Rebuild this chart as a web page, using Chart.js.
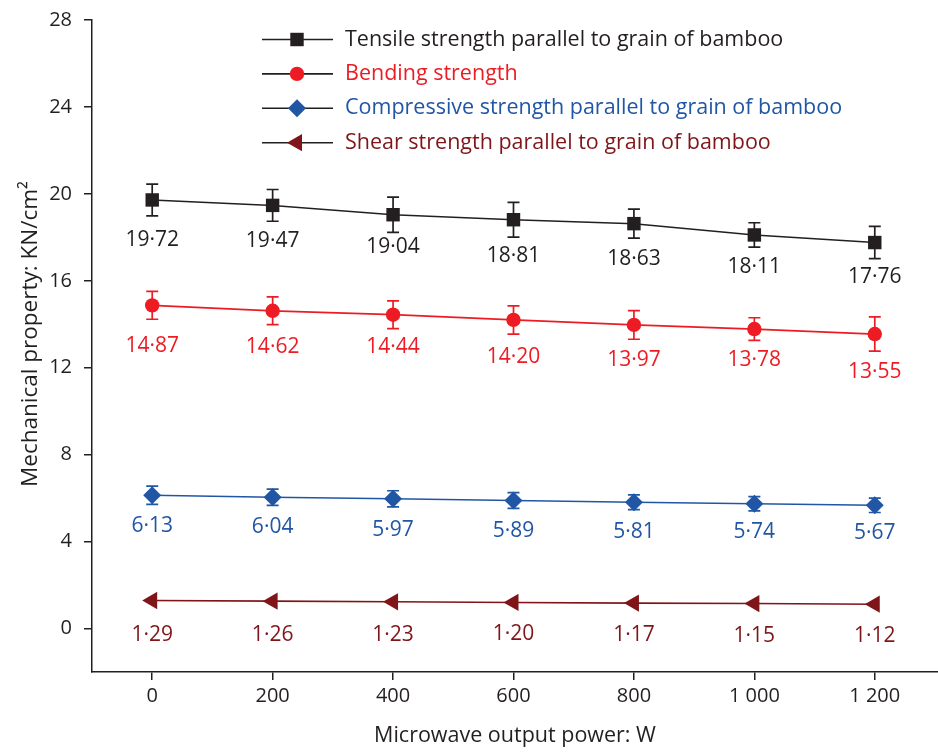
<!DOCTYPE html>
<html>
<head>
<meta charset="utf-8">
<script src="https://cdn.jsdelivr.net/npm/chart.js@4/dist/chart.umd.min.js"></script>
<style>
  html, body { margin: 0; padding: 0; background: #ffffff; }
  #wrap { width: 938px; height: 752px; }
</style>
</head>
<body>
<div id="wrap"><canvas id="chart" width="938" height="752"></canvas></div>
<script>
// Microwave output power (W)
const powerLevels = [0, 200, 400, 600, 800, 1000, 1200];

// Mean mechanical properties (KN/cm²) with their standard deviations
const tensileStrength = [19.72, 19.47, 19.04, 18.81, 18.63, 18.11, 17.76];
const tensileSD       = [0.73, 0.73, 0.81, 0.80, 0.67, 0.56, 0.74];

const bendingStrength = [14.87, 14.62, 14.44, 14.20, 13.97, 13.78, 13.55];
const bendingSD       = [0.64, 0.64, 0.64, 0.65, 0.66, 0.52, 0.79];

const compressiveStrength = [6.13, 6.04, 5.97, 5.89, 5.81, 5.74, 5.67];
const compressiveSD       = [0.42, 0.37, 0.37, 0.36, 0.34, 0.33, 0.33];

const shearStrength = [1.29, 1.26, 1.23, 1.20, 1.17, 1.15, 1.12];

const seriesNames = [
  'Tensile strength parallel to grain of bamboo',
  'Bending strength',
  'Compressive strength parallel to grain of bamboo',
  'Shear strength parallel to grain of bamboo'
];

const xAxisTitle = 'Microwave output power: W';
const yAxisTitle = 'Mechanical property: KN/cm\u00b2';

const yTickValues = [0, 4, 8, 12, 16, 20, 24, 28];
const xTickValues = [0, 200, 400, 600, 800, 1000, 1200];

// ---- styling ----
const FONT = "'Open Sans', 'Noto Sans', sans-serif";
const INK = '#231f20';
const RED = '#ed1c24';
const BLUE = '#2156a5';
const MAROON = '#7f1519';

// How far (px) each value label sits below its marker
const tensileLabelDrop     = [40, 36, 32, 36, 35, 32, 34];
const bendingLabelDrop     = [41, 36, 32, 37, 35, 31, 38];
const compressiveLabelDrop = [31, 30, 31, 30, 30, 28, 28];
const shearLabelDrop       = [35, 34, 33, 32, 32, 32, 32];

const toPoints = (vals) => powerLevels.map((p, i) => ({ x: p, y: vals[i] }));
const fmtValue = (v) => v.toFixed(2).replace('.', '\u00b7');
const fmtPower = (v) => v >= 1000 ? Math.floor(v / 1000) + ' ' + String(v % 1000).padStart(3, '0') : String(v);

const datasets = [
  { label: seriesNames[0], data: toPoints(tensileStrength), errors: tensileSD,
    color: INK, pointStyle: 'rect', pointRadius: 9.5, pointRotation: 0, labelDrop: tensileLabelDrop, borderWidth: 1.5 },
  { label: seriesNames[1], data: toPoints(bendingStrength), errors: bendingSD,
    color: RED, pointStyle: 'circle', pointRadius: 7.2, pointRotation: 0, labelDrop: bendingLabelDrop, borderWidth: 1.8 },
  { label: seriesNames[2], data: toPoints(compressiveStrength), errors: compressiveSD,
    color: BLUE, pointStyle: 'rectRot', pointRadius: 9, pointRotation: 0, labelDrop: compressiveLabelDrop, borderWidth: 1.6 },
  { label: seriesNames[3], data: toPoints(shearStrength), errors: null,
    color: MAROON, pointStyle: 'triangle', pointRadius: 10, pointRotation: -90, labelDrop: shearLabelDrop, borderWidth: 1.6 }
].map(d => Object.assign(d, {
  borderColor: d.color,
  backgroundColor: d.color,
  pointBackgroundColor: d.color,
  pointBorderColor: d.color,
  pointBorderWidth: 0,
  pointHoverRadius: d.pointRadius,
  tension: 0,
  fill: false
}));

// Vertical error bars with caps, drawn underneath the markers
const errorBarPlugin = {
  id: 'errorBars',
  beforeDatasetsDraw(chart) {
    const { ctx, scales: { x, y } } = chart;
    chart.data.datasets.forEach(ds => {
      if (!ds.errors) return;
      ctx.save();
      ctx.strokeStyle = ds.color;
      ctx.lineWidth = 1.7;
      ds.data.forEach((p, j) => {
        const e = ds.errors[j];
        const px = x.getPixelForValue(p.x);
        const top = y.getPixelForValue(p.y + e);
        const bot = y.getPixelForValue(p.y - e);
        ctx.beginPath();
        ctx.moveTo(px, top); ctx.lineTo(px, bot);
        ctx.moveTo(px - 6, top); ctx.lineTo(px + 6, top);
        ctx.moveTo(px - 6, bot); ctx.lineTo(px + 6, bot);
        ctx.stroke();
      });
      ctx.restore();
    });
  }
};

// Value labels under each marker
const valueLabelPlugin = {
  id: 'valueLabels',
  afterDatasetsDraw(chart) {
    const { ctx, scales: { x, y } } = chart;
    ctx.save();
    ctx.font = '21px ' + FONT;
    ctx.textAlign = 'center';
    ctx.textBaseline = 'middle';
    chart.data.datasets.forEach(ds => {
      ctx.fillStyle = ds.color;
      ds.data.forEach((p, j) => {
        ctx.fillText(fmtValue(p.y), x.getPixelForValue(p.x), y.getPixelForValue(p.y) + ds.labelDrop[j]);
      });
    });
    ctx.restore();
  }
};

// Rotated y-axis title, sitting slightly above the middle of the axis
const yTitlePlugin = {
  id: 'yTitle',
  afterDraw(chart) {
    const { ctx } = chart;
    ctx.save();
    ctx.translate(31, 334);
    ctx.rotate(-Math.PI / 2);
    ctx.font = '22.5px ' + FONT;
    ctx.fillStyle = INK;
    ctx.textAlign = 'center';
    ctx.textBaseline = 'middle';
    ctx.fillText(yAxisTitle, 0, 0);
    ctx.restore();
  }
};

function drawMarker(ctx, style, r, rotationDeg, cx, cy) {
  ctx.beginPath();
  if (style === 'rect') {
    const s = Math.SQRT1_2 * r;
    ctx.rect(cx - s, cy - s, 2 * s, 2 * s);
  } else if (style === 'circle') {
    ctx.arc(cx, cy, r, 0, Math.PI * 2);
  } else if (style === 'rectRot') {
    ctx.moveTo(cx - r, cy); ctx.lineTo(cx, cy - r); ctx.lineTo(cx + r, cy); ctx.lineTo(cx, cy + r);
  } else if (style === 'triangle') {
    let a = rotationDeg * Math.PI / 180;
    for (let k = 0; k < 3; k++) {
      const fx = cx + Math.sin(a) * r, fy = cy - Math.cos(a) * r;
      if (k === 0) ctx.moveTo(fx, fy); else ctx.lineTo(fx, fy);
      a += 2 * Math.PI / 3;
    }
  }
  ctx.closePath();
  ctx.fill();
}

// Legend inside the plot area: black line sample, coloured marker, coloured text
const insetLegendPlugin = {
  id: 'insetLegend',
  afterDraw(chart) {
    const { ctx } = chart;
    ctx.save();
    ctx.font = '21.5px ' + FONT;
    ctx.textBaseline = 'middle';
    chart.data.datasets.forEach((ds, i) => {
      const cy = 39.5 + i * 34.4;
      ctx.strokeStyle = INK;
      ctx.lineWidth = 1.6;
      ctx.beginPath(); ctx.moveTo(262, cy); ctx.lineTo(333, cy); ctx.stroke();
      ctx.fillStyle = ds.color;
      drawMarker(ctx, ds.pointStyle, ds.pointRadius, ds.pointRotation, 297, cy);
      ctx.fillText(ds.label, 345, cy);
    });
    ctx.restore();
  }
};

const axisCommon = {
  grid: { drawOnChartArea: false, drawTicks: true, tickLength: 8, color: INK, lineWidth: 1.5 },
  border: { display: true, color: INK, width: 1.5 }
};

new Chart(document.getElementById('chart'), {
  type: 'line',
  data: { datasets },
  options: {
    responsive: false,
    animation: false,
    devicePixelRatio: 1,
    layout: { autoPadding: false, padding: { top: 20, right: 0, bottom: 0, left: 0 } },
    plugins: { legend: { display: false }, tooltip: { enabled: false } },
    scales: {
      x: Object.assign({}, axisCommon, {
        type: 'linear',
        min: -100,
        max: 1305,
        afterBuildTicks: s => { s.ticks = xTickValues.map(v => ({ value: v })); },
        afterFit: s => { s.height = 80; s.paddingLeft = 0; s.paddingRight = 0; },
        ticks: { color: INK, padding: 4, maxRotation: 0, autoSkip: false,
                 font: { family: FONT, size: 20 }, callback: v => fmtPower(v) },
        title: { display: true, text: xAxisTitle, color: INK,
                 font: { family: FONT, size: 21.5 }, padding: { top: 0, bottom: 3 } }
      }),
      y: Object.assign({}, axisCommon, {
        type: 'linear',
        min: -2,
        max: 28,
        afterBuildTicks: s => { s.ticks = yTickValues.map(v => ({ value: v })); },
        afterFit: s => { s.width = 92; s.paddingTop = 0; s.paddingBottom = 0; },
        ticks: { color: INK, padding: 12, font: { family: FONT, size: 20 } },
        title: { display: false }
      })
    }
  },
  plugins: [errorBarPlugin, valueLabelPlugin, yTitlePlugin, insetLegendPlugin]
});
</script>
</body>
</html>
